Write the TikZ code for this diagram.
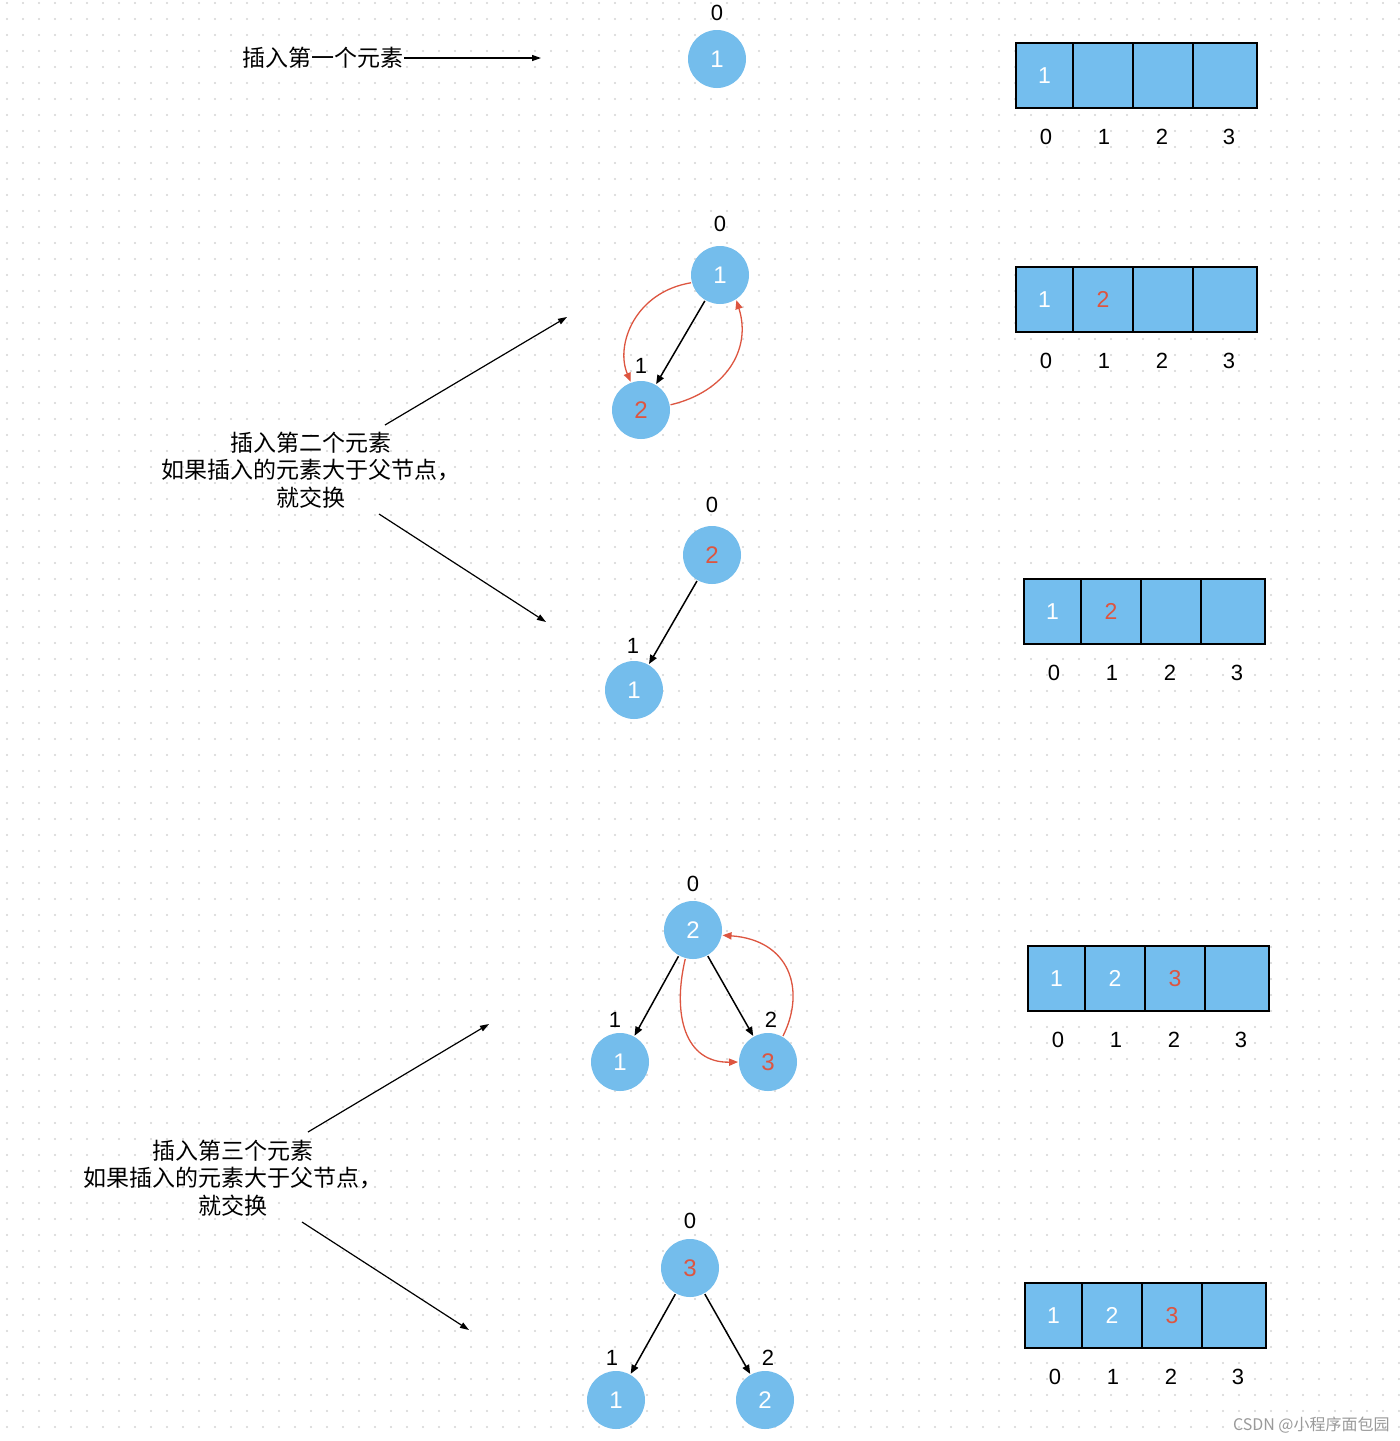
\documentclass[tikz,border=0pt]{standalone}
\usepackage{fontspec}
\setmainfont{Noto Sans CJK SC}
\newfontfamily\digitfont{Liberation Sans}
\usetikzlibrary{arrows.meta}
\definecolor{nodeblue}{HTML}{74BDEC}
\definecolor{arrblue}{HTML}{74BEEE}
\definecolor{swapred}{HTML}{DD5540}
\definecolor{dotgray}{HTML}{D4D4D4}
\definecolor{markgray}{HTML}{9A9A9A}
\newcommand{\heaparr}[6]{%
\begin{scope}[shift={(#2,#3)}]
\node[cell,minimum width=28.5pt] (#1c0) at (0,0) {#4};
\node[cell,minimum width=30pt] (#1c1) at (57,0) {#5};
\node[cell,minimum width=30pt] (#1c2) at (117,0) {#6};
\node[cell,minimum width=32pt] (#1c3) at (177,0) {};
\node[idx] (#1i0) at (31,95) {0};
\node[idx] (#1i1) at (89,95) {1};
\node[idx] (#1i2) at (147,95) {2};
\node[idx] (#1i3) at (214,95) {3};
\end{scope}}
\begin{document}
\begin{tikzpicture}[x=0.5pt,y=-0.5pt,
  heapnode/.style={circle,fill=nodeblue,minimum size=29pt,inner sep=0pt,outer sep=0.5pt,
    font=\digitfont\fontsize{12}{14}\selectfont,text=white},
  lbl/.style={font=\digitfont\fontsize{11}{13}\selectfont,inner sep=0pt},
  idx/.style={font=\digitfont\fontsize{11}{13}\selectfont,inner sep=0pt},
  cell/.style={draw=black,line width=1pt,fill=arrblue,anchor=north west,minimum height=32.5pt,
    inner sep=0pt,text=white,font=\digitfont\fontsize{11.5}{13}\selectfont},
  edge/.style={black,line width=0.75pt,-{Triangle[length=4.5pt,width=3.6pt]}},
  swap/.style={swapred,line width=0.65pt,-{Triangle[length=4.5pt,width=3.6pt]}},
  note/.style={font=\fontsize{11.5}{13.75}\selectfont,align=center,inner sep=0pt},
  pointer/.style={black,line width=0.6pt,-{Triangle[length=4.5pt,width=3pt]}},
  gridrow/.style={dotgray,line width=1.1pt,line cap=round,dash pattern=on 0pt off 8pt}]
\useasboundingbox (0,0) rectangle (1400,1441);
\fill[white] (0,0) rectangle (1400,1441);
% dotted grid
\foreach \y in {3,19,...,1441} {
  \draw[gridrow] (7,\y) -- (1400,\y);
}
% ---- step 1
\node[note,anchor=east] (note1) at (404,58) {插入第一个元素};
\coordinate (p1) at (541,58);
\draw[pointer] (note1.east) -- (p1);
\node[lbl] (l10) at (717,13) {0};
\node[heapnode] (n11) at (717,59) {1};
\heaparr{a1}{1015}{42}{1}{}{}
% ---- step 2
\node[lbl] (l20) at (720,224) {0};
\node[heapnode] (n21) at (720,275) {1};
\node[lbl] (l21) at (641,366) {1};
\node[heapnode,text=swapred] (n22) at (641,410) {2};
\draw[edge] (n21) -- (n22);
\draw[swap] (n21.195) .. controls (635,292) and (615,345) .. (n22.110);
\draw[swap] (n22.10) .. controls (725,392) and (752,350) .. (n21.-57);
\heaparr{a2}{1015}{266}{1}{\color{swapred}2}{}
\node[note] (note2) at (311,470) {插入第二个元素\\如果插入的元素大于父节点，\\就交换};
\coordinate (s2a) at (385,425);
\coordinate (e2a) at (567,317);
\coordinate (s2b) at (379,514);
\coordinate (e2b) at (546,622);
\draw[pointer] (s2a) -- (e2a);
\draw[pointer] (s2b) -- (e2b);
% ---- step 3
\node[lbl] (l30) at (712,505) {0};
\node[heapnode,text=swapred] (n31) at (712,555) {2};
\node[lbl] (l31) at (633,646) {1};
\node[heapnode] (n32) at (634,690) {1};
\draw[edge] (n31) -- (n32);
\heaparr{a3}{1023}{578}{1}{\color{swapred}2}{}
% ---- step 4
\node[lbl] (l40) at (693,884) {0};
\node[heapnode] (n41) at (693,930) {2};
\node[lbl] (l41) at (615,1020) {1};
\node[heapnode] (n42) at (620,1062) {1};
\node[lbl] (l42) at (771,1020) {2};
\node[heapnode,text=swapred] (n43) at (768,1062) {3};
\draw[edge] (n41) -- (n42);
\draw[edge] (n41) -- (n43);
\draw[swap] (n41.-105) .. controls (672,1015) and (685,1063) .. (n43.180);
\draw[swap] (n43.60) .. controls (806,990) and (790,940) .. (n41.-10);
\heaparr{a4}{1027}{945}{1}{2}{\color{swapred}3}
\node[note] (note3) at (233,1178) {插入第三个元素\\如果插入的元素大于父节点，\\就交换};
\coordinate (s3a) at (308,1132);
\coordinate (e3a) at (489,1024);
\coordinate (s3b) at (302,1222);
\coordinate (e3b) at (469,1330);
\draw[pointer] (s3a) -- (e3a);
\draw[pointer] (s3b) -- (e3b);
% ---- step 5
\node[lbl] (l50) at (690,1221) {0};
\node[heapnode,text=swapred] (n51) at (690,1268) {3};
\node[lbl] (l51) at (612,1358) {1};
\node[heapnode] (n52) at (616,1400) {1};
\node[lbl] (l52) at (768,1358) {2};
\node[heapnode] (n53) at (765,1400) {2};
\draw[edge] (n51) -- (n52);
\draw[edge] (n51) -- (n53);
\heaparr{a5}{1024}{1282}{1}{2}{\color{swapred}3}
% watermark
\node[font=\fontsize{8}{10}\selectfont,text=markgray,anchor=east,inner sep=0pt] (wm) at (1390,1425) {CSDN @小程序面包园};
\end{tikzpicture}
\end{document}
